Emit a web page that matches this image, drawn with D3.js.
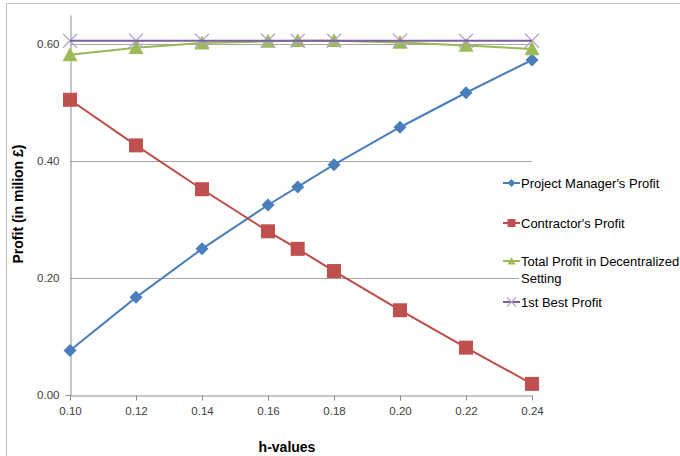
<!DOCTYPE html>
<html>
<head>
<meta charset="utf-8">
<script src="https://cdn.jsdelivr.net/npm/d3@7"></script>
<style>
  html, body { margin: 0; padding: 0; background: #fff; }
  svg { display: block; font-family: "Liberation Sans", Arial, sans-serif; }
</style>
</head>
<body>
<svg id="chart" width="680" height="456"></svg>
<script>
// h-values on the horizontal axis
const hValues = [0.10, 0.12, 0.14, 0.16, 0.169, 0.18, 0.20, 0.22, 0.24];
// Profits in million £
const pmProfit = [0.076, 0.167, 0.250, 0.325, 0.356, 0.394, 0.458, 0.517, 0.573];
const contractorProfit = [0.505, 0.427, 0.352, 0.280, 0.250, 0.212, 0.145, 0.081, 0.019];
const totalProfit = [0.582, 0.594, 0.602, 0.605, 0.606, 0.606, 0.603, 0.598, 0.592];
const firstBestProfit = [0.606, 0.606, 0.606, 0.606, 0.606, 0.606, 0.606, 0.606, 0.606];

const xTicks = [0.10, 0.12, 0.14, 0.16, 0.18, 0.20, 0.22, 0.24];
const yTicks = [0.00, 0.20, 0.40, 0.60];

const seriesNames = ["Project Manager's Profit", "Contractor's Profit",
  "Total Profit in Decentralized Setting", "1st Best Profit"];

const svg = d3.select("#chart");

// outer chart frame
svg.append("rect").attr("x", 6.5).attr("y", 3.5).attr("width", 700).attr("height", 470)
  .attr("fill", "#fff").attr("stroke", "#bfbfbf").attr("stroke-width", 1);

const x = d3.scaleLinear().domain([0.10, 0.24]).range([70, 532]);
const y = d3.scaleLinear().domain([0, 0.65]).range([395, 15]);

// horizontal gridlines
svg.append("g").selectAll("line").data(yTicks.filter(v => v > 0)).join("line")
  .attr("x1", 70).attr("x2", 532)
  .attr("y1", d => Math.round(y(d)) + 0.5).attr("y2", d => Math.round(y(d)) + 0.5)
  .attr("stroke", "#a6a6a6").attr("stroke-width", 1);

// axes
const xAxis = svg.append("g").attr("transform", "translate(0,395.5)")
  .call(d3.axisBottom(x).tickValues(xTicks).tickFormat(d3.format(".2f")).tickSize(5).tickSizeOuter(0).tickPadding(6));
const yAxis = svg.append("g").attr("transform", "translate(70.5,0)")
  .call(d3.axisLeft(y).tickValues(yTicks).tickFormat(d3.format(".2f")).tickSize(5).tickSizeOuter(0).tickPadding(6));
[xAxis, yAxis].forEach(g => {
  g.select(".domain").attr("stroke", "#8c8c8c");
  g.selectAll(".tick line").attr("stroke", "#8c8c8c");
  g.selectAll("text").attr("fill", "#404040").style("font-size", "11.5px")
    .style("font-family", "'Liberation Sans', Arial, sans-serif");
});
yAxis.selectAll(".tick line").filter(d => d > 0).remove();

// axis titles
svg.append("text").attr("x", 287).attr("y", 452).attr("text-anchor", "middle")
  .style("font-size", "14px").style("font-weight", "bold").attr("fill", "#000").text("h-values");
svg.append("text").attr("transform", "translate(23,204) rotate(-90)").attr("text-anchor", "middle")
  .style("font-size", "14px").style("font-weight", "bold").attr("fill", "#000").text("Profit (in  milion £)");

const colors = ["#4a7ebb", "#be4b48", "#98b954", "#7d60a0"];
const dataSets = [pmProfit, contractorProfit, totalProfit, firstBestProfit];

const line = d3.line().x((d, i) => x(hValues[i])).y(d => y(d));

function drawMarker(g, k, cx, cy, s) {
  if (k === 0) {
    g.append("path").attr("d", `M${cx},${cy - s}L${cx + s},${cy}L${cx},${cy + s}L${cx - s},${cy}Z`)
      .attr("fill", colors[0]);
  } else if (k === 1) {
    g.append("rect").attr("x", cx - s).attr("y", cy - s).attr("width", 2 * s).attr("height", 2 * s)
      .attr("fill", "#c0504d");
  } else if (k === 2) {
    g.append("path").attr("d", `M${cx},${cy - s}L${cx + s},${cy + s * 0.85}L${cx - s},${cy + s * 0.85}Z`)
      .attr("fill", "#9bbb59");
  } else {
    g.append("path").attr("d", `M${cx - s},${cy - s}L${cx + s},${cy + s}M${cx - s},${cy + s}L${cx + s},${cy - s}`)
      .attr("stroke", "#b3a2c7").attr("stroke-width", 1.2).attr("fill", "none");
  }
}

const markerSizes = [6.5, 7, 7.5, 7];

dataSets.forEach((vals, k) => {
  const g = svg.append("g");
  if (k === 3) {
    vals.forEach((v, i) => drawMarker(g, k, x(hValues[i]), y(v), markerSizes[k]));
  }
  g.append("path").datum(vals).attr("d", line).attr("fill", "none")
    .attr("stroke", colors[k]).attr("stroke-width", 2);
  if (k !== 3) {
    vals.forEach((v, i) => drawMarker(g, k, x(hValues[i]), y(v), markerSizes[k]));
  }
});

// legend
const legend = svg.append("g");
legend.append("rect").attr("x", 519).attr("y", 168).attr("width", 165).attr("height", 145).attr("fill", "#fff");
const legendRows = [
  { k: 0, y: 183, lines: [seriesNames[0]] },
  { k: 1, y: 223, lines: [seriesNames[1]] },
  { k: 2, y: 261, lines: ["Total Profit in Decentralized", "Setting"] },
  { k: 3, y: 302, lines: [seriesNames[3]] }
];
legendRows.forEach(r => {
  legend.append("line").attr("x1", 503).attr("x2", 520).attr("y1", r.y).attr("y2", r.y)
    .attr("stroke", colors[r.k]).attr("stroke-width", 2);
  drawMarker(legend, r.k, 511.5, r.y, r.k === 3 ? 4.5 : 4);
  r.lines.forEach((t, j) => {
    legend.append("text").attr("x", 521).attr("y", r.y + 4.5 + j * 17)
      .style("font-size", "13px").attr("fill", "#000").text(t);
  });
});
</script>
</body>
</html>
